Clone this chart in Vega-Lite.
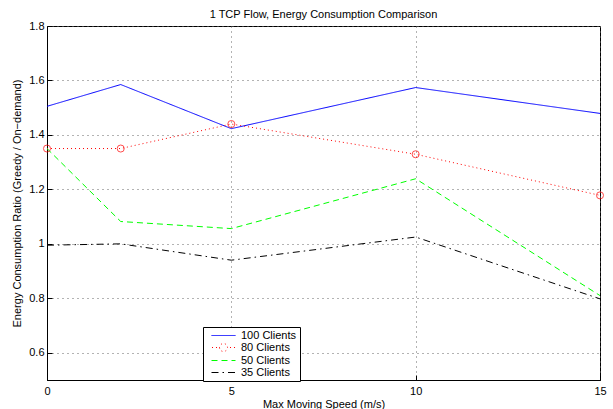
{
  "$schema": "https://vega.github.io/schema/vega-lite/v6.json",
  "width": 553,
  "height": 354,
  "autosize": "none",
  "padding": {"left": 47, "top": 26, "right": 13, "bottom": 29},
  "background": "white",
  "config": {
    "font": "Liberation Sans",
    "view": {"stroke": "black", "strokeWidth": 1},
    "axis": {
      "domainColor": "black",
      "domainWidth": 1,
      "tickColor": "black",
      "labelColor": "black",
      "titleColor": "black",
      "labelFontSize": 11,
      "titleFontSize": 11,
      "titleFontWeight": "normal",
      "gridColor": "#666666",
      "gridDash": [1, 4],
      "gridWidth": 1,
      "gridOpacity": 1
    }
  },
  "title": {
    "text": "1 TCP Flow, Energy Consumption Comparison",
    "fontSize": 11,
    "fontWeight": "normal",
    "font": "Liberation Sans",
    "color": "black",
    "offset": 0
  },
  "data": {
    "values": [
      {"speed": 0, "ratio": 1.505, "series": "100 Clients"},
      {"speed": 2, "ratio": 1.585, "series": "100 Clients"},
      {"speed": 5, "ratio": 1.423, "series": "100 Clients"},
      {"speed": 10, "ratio": 1.574, "series": "100 Clients"},
      {"speed": 15, "ratio": 1.479, "series": "100 Clients"},
      {"speed": 0, "ratio": 1.35, "series": "80 Clients"},
      {"speed": 2, "ratio": 1.35, "series": "80 Clients"},
      {"speed": 5, "ratio": 1.44, "series": "80 Clients"},
      {"speed": 10, "ratio": 1.329, "series": "80 Clients"},
      {"speed": 15, "ratio": 1.178, "series": "80 Clients"},
      {"speed": 0, "ratio": 1.35, "series": "50 Clients"},
      {"speed": 2, "ratio": 1.082, "series": "50 Clients"},
      {"speed": 5, "ratio": 1.056, "series": "50 Clients"},
      {"speed": 10, "ratio": 1.239, "series": "50 Clients"},
      {"speed": 15, "ratio": 0.81, "series": "50 Clients"},
      {"speed": 0, "ratio": 0.995, "series": "35 Clients"},
      {"speed": 2, "ratio": 1.0, "series": "35 Clients"},
      {"speed": 5, "ratio": 0.94, "series": "35 Clients"},
      {"speed": 10, "ratio": 1.025, "series": "35 Clients"},
      {"speed": 15, "ratio": 0.798, "series": "35 Clients"}
    ]
  },
  "layer": [
    {
      "mark": {"type": "line", "strokeWidth": 1, "clip": true},
      "encoding": {
        "x": {
          "field": "speed",
          "type": "quantitative",
          "scale": {"domain": [0, 15], "nice": false},
          "axis": {
            "title": "Max Moving Speed (m/s)",
            "values": [0, 5, 10, 15],
            "grid": true,
            "tickSize": -5,
            "labelPadding": 10,
            "titlePadding": 2,
            "labelFlush": false
          }
        },
        "y": {
          "field": "ratio",
          "type": "quantitative",
          "scale": {"domain": [0.5, 1.8], "nice": false, "zero": false},
          "axis": {
            "title": "Energy Consumption Ratio (Greedy / On\u2212demand)",
            "values": [0.6, 0.8, 1, 1.2, 1.4, 1.6, 1.8],
            "labelExpr": "format(datum.value, '~g')",
            "grid": true,
            "tickSize": -5,
            "labelPadding": 8,
            "titlePadding": 6
          }
        },
        "color": {
          "field": "series",
          "type": "nominal",
          "scale": {
            "domain": ["100 Clients", "80 Clients", "50 Clients", "35 Clients"],
            "range": ["#0000ff", "#ff0000", "#00ff00", "#000000"]
          },
          "legend": {
            "title": null,
            "orient": "none",
            "legendX": 156,
            "legendY": 301,
            "symbolType": "M-2.4,0H2.4",
            "symbolSize": 100,
            "symbolStrokeWidth": 1,
            "symbolOffset": 12,
            "labelFontSize": 11,
            "labelColor": "black",
            "labelOffset": 12,
            "rowPadding": 0,
            "strokeColor": "black",
            "fillColor": "white",
            "padding": 3,
            "encode": {
              "symbols": {
                "update": {
                  "shape": {"signal": "datum.value === '80 Clients' ? 'M-0.8,0A0.8,0.8 0 1,0 0.8,0A0.8,0.8 0 1,0 -0.8,0ZM-2.3,0H-2.1M-1.5,0H-1.3M1.3,0H1.5M2.1,0H2.3' : 'M-2.4,0H2.4'"},
                  "strokeDash": {"signal": "datum.value === '50 Clients' ? [6,4] : datum.value === '35 Clients' ? [7,4,1.5,4] : [1,0]"}
                }
              }
            }
          }
        },
        "strokeDash": {
          "field": "series",
          "type": "nominal",
          "scale": {
            "domain": ["100 Clients", "80 Clients", "50 Clients", "35 Clients"],
            "range": [[1, 0], [1, 3], [6, 4], [7, 4, 1.5, 4]]
          },
          "legend": null
        }
      }
    },
    {
      "transform": [{"filter": "datum.series === '80 Clients'"}],
      "mark": {"type": "point", "shape": "circle", "filled": false, "color": "#ff0000", "size": 50, "strokeWidth": 1, "clip": false},
      "encoding": {
        "x": {"field": "speed", "type": "quantitative"},
        "y": {"field": "ratio", "type": "quantitative"}
      }
    }
  ]
}
